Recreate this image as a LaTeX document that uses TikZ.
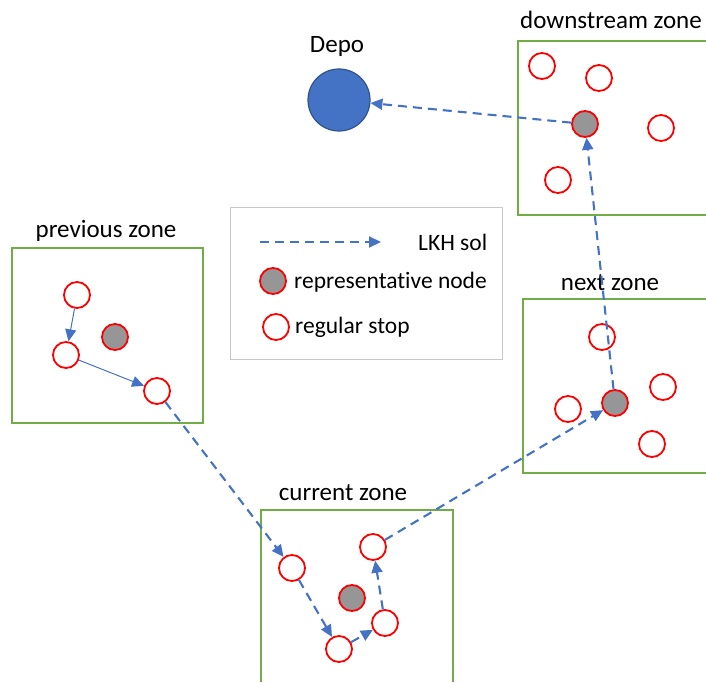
\documentclass[tikz,border=0pt]{standalone}
\usepackage{fontspec}
\setmainfont{Carlito}[Ligatures=NoCommon]
\usetikzlibrary{arrows.meta}
\definecolor{zgreen}{RGB}{112,173,71}
\definecolor{lblue}{RGB}{68,114,196}
\definecolor{dblue}{RGB}{47,82,143}
\definecolor{rgray}{RGB}{150,150,150}
\definecolor{lgray}{RGB}{200,200,200}
\tikzset{
  zone/.style={draw=zgreen, line width=1.5pt},
  stop/.style={circle, draw=red, line width=1.8pt, fill=white, minimum size=26pt, inner sep=0pt},
  repnode/.style={stop, fill=rgray},
  depot/.style={circle, draw=dblue, line width=1.2pt, fill=lblue, minimum size=62pt, inner sep=0pt},
  lkh/.style={draw=lblue, line width=2.1pt, dash pattern=on 9pt off 6pt, -{Triangle[length=12pt,width=11pt]}},
  intra/.style={draw=lblue, line width=1pt, -{Triangle[length=12pt,width=11pt]}},
  lbl/.style={font=\fontsize{25}{28}\selectfont, inner sep=0pt},
  leg/.style={font=\fontsize{23.5}{27}\selectfont, inner sep=0pt}
}
\begin{document}
\begin{tikzpicture}[x=1pt,y=-1pt]
\useasboundingbox (0,0) rectangle (706,682);
% zones
\draw[zone] (12,248) rectangle (203,423);
\draw[zone] (261,682) -- (261,510) -- (453,510) -- (453,682);
\draw[zone] (706,41) -- (518,41) -- (518,215) -- (706,215);
\draw[zone] (706,299) -- (523,299) -- (523,473) -- (706,473);
\draw[draw=lgray, line width=0.8pt] (230,207) rectangle (502,359);
% labels
\node[lbl] (ldepo) at (337,46) {Depo};
\node[lbl] (ldown) at (611,20) {downstream zone};
\node[lbl] (lprev) at (106,231) {previous zone};
\node[lbl] (lnext) at (610,283) {next zone};
\node[lbl] (lcur) at (343,493) {current zone};
% depot
\node[depot] (depo) at (339,100) {};
% previous zone
\node[stop] (p1) at (77,295) {};
\node[stop] (p2) at (66,355) {};
\node[stop] (p3) at (157,391) {};
\node[repnode] (prep) at (115,337) {};
% current zone
\node[stop] (c1) at (292,568) {};
\node[stop] (c2) at (339,649) {};
\node[stop] (c3) at (385,623) {};
\node[stop] (c4) at (373,547) {};
\node[repnode] (crep) at (352,598) {};
% next zone
\node[stop] (n1) at (602,337) {};
\node[stop] (n2) at (568,409) {};
\node[repnode] (nrep) at (615,403) {};
\node[stop] (n3) at (663,387) {};
\node[stop] (n4) at (652,444) {};
% downstream zone
\node[stop] (d1) at (542,66) {};
\node[stop] (d2) at (599,78) {};
\node[repnode] (drep) at (585,124) {};
\node[stop] (d3) at (661,128) {};
\node[stop] (d4) at (558,180) {};
% routes
\draw[intra] (p1) -- (p2);
\draw[intra] (p2) -- (p3);
\draw[lkh] (p3) -- (c1);
\draw[lkh] (c1) -- (c2);
\draw[lkh] (c2) -- (c3);
\draw[lkh] (c3) -- (c4);
\draw[lkh] (c4) -- (nrep);
\draw[lkh] (nrep) -- (drep);
\draw[lkh] (drep) -- (depo);
% legend
\coordinate (la) at (260,242);
\coordinate (lb) at (381,242);
\draw[lkh] (la) -- (lb);
\node[leg, anchor=west] (tl1) at (418,242) {LKH sol};
\node[repnode] (lrep) at (273,281) {};
\node[leg, anchor=west] (tl2) at (294,282) {representative node};
\node[stop] (lstop) at (276,327) {};
\node[leg, anchor=west] (tl3) at (295,327) {regular stop};
\end{tikzpicture}
\end{document}
